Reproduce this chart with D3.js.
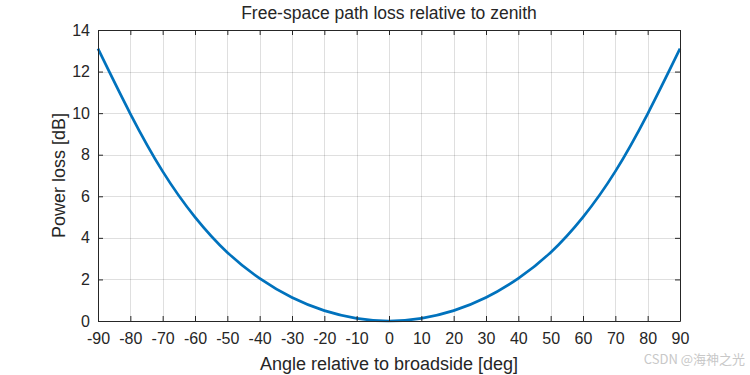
<!DOCTYPE html>
<html lang="en">
  <head>
    <meta charset="utf-8">
    <script src="https://d3js.org/d3.v7.min.js"></script>
    <style>
    body { margin: 0; background: #fff; }
    text { font-family: "Liberation Sans", Arial, sans-serif; fill: #262626; }
    .grid line { stroke: #262626; stroke-opacity: 0.15; }
    </style>
    <title>Free-space path loss</title>
  </head>
  <body>
    <script>
    // values
    var angles = [-90, -80, -70, -60, -50, -40, -30, -20, -10, 0, 10, 20, 30, 40, 50, 60, 70, 80, 90];
    var loss = [13.1, 9.97, 7.2, 5.0, 3.3, 2.05, 1.13, 0.5, 0.13, 0, 0.13, 0.5, 1.13, 2.05, 3.3, 5.0, 7.2, 9.97, 13.1];
    var xTicks = d3.range(-90, 91, 10);
    var yTicks = [0, 2, 4, 6, 8, 10, 12, 14];

    var w = 750, h = 375;
    var mLeft = 98, mRight = 680, mTop = 30, mBottom = 321;

    var svg = d3.select('body').append('svg')
        .attr('width', w)
        .attr('height', h);

    var x = d3.scaleLinear().domain([-90, 90]).range([mLeft, mRight]);
    var y = d3.scaleLinear().domain([0, 14]).range([mBottom, mTop]);

    // grid
    var grid = svg.append('g').attr('class', 'grid');
    grid.selectAll('.gx').data(xTicks.slice(1, -1)).enter().append('line')
        .attr('x1', function(d) { return Math.round(x(d)) + 0.5; })
        .attr('x2', function(d) { return Math.round(x(d)) + 0.5; })
        .attr('y1', mTop).attr('y2', mBottom);
    grid.selectAll('.gy').data(yTicks.slice(1, -1)).enter().append('line')
        .attr('y1', function(d) { return Math.round(y(d)) + 0.5; })
        .attr('y2', function(d) { return Math.round(y(d)) + 0.5; })
        .attr('x1', mLeft).attr('x2', mRight);

    // the curve
    var pts = angles.map(function(a, i) { return [a, loss[i]]; });
    var line = d3.line()
        .x(function(d) { return x(d[0]); })
        .y(function(d) { return y(d[1]); })
        .curve(d3.curveNatural);
    svg.append('path')
        .datum(pts)
        .attr('d', line)
        .attr('fill', 'none')
        .attr('stroke', '#0072BD')
        .attr('stroke-width', 2.7);

    // axes (ticks inside, box on all sides)
    var fmt = function(d) { return String(d); };
    function styleAxis(g) {
      g.selectAll('.domain').attr('stroke', '#262626');
      g.selectAll('.tick line').attr('stroke', '#262626');
      g.selectAll('text').style('font-size', '16px').attr('fill', '#262626')
        .style('font-family', '"Liberation Sans", Arial, sans-serif');
    }
    svg.append('g')
        .attr('transform', 'translate(0,' + mBottom + ')')
        .call(d3.axisBottom(x).tickValues(xTicks).tickFormat(fmt).tickSizeInner(-5).tickSizeOuter(0).tickPadding(12))
        .call(styleAxis);
    svg.append('g')
        .attr('transform', 'translate(0,' + mTop + ')')
        .call(d3.axisTop(x).tickValues(xTicks).tickSizeInner(-5).tickSizeOuter(0).tickFormat(''))
        .call(styleAxis);
    svg.append('g')
        .attr('transform', 'translate(' + mLeft + ',0)')
        .call(d3.axisLeft(y).tickValues(yTicks).tickFormat(fmt).tickSizeInner(-5).tickSizeOuter(0).tickPadding(8))
        .call(styleAxis);
    svg.append('g')
        .attr('transform', 'translate(' + mRight + ',0)')
        .call(d3.axisRight(y).tickValues(yTicks).tickSizeInner(-5).tickSizeOuter(0).tickFormat(''))
        .call(styleAxis);

    // labels
    svg.append('text')
        .attr('x', (mLeft + mRight) / 2).attr('y', 19)
        .attr('text-anchor', 'middle')
        .style('font-size', '17.5px')
        .text('Free-space path loss relative to zenith');
    svg.append('text')
        .attr('x', (mLeft + mRight) / 2).attr('y', 370)
        .attr('text-anchor', 'middle')
        .style('font-size', '18px')
        .text('Angle relative to broadside [deg]');
    svg.append('text')
        .attr('transform', 'translate(65,' + ((mTop + mBottom) / 2) + ') rotate(-90)')
        .attr('text-anchor', 'middle')
        .style('font-size', '18px')
        .text('Power loss [dB]');

    // watermark
    svg.append('text')
        .attr('x', 745).attr('y', 364)
        .attr('text-anchor', 'end')
        .style('font-size', '13px')
        .style('fill', '#c8c8c8')
        .style('font-family', '"Noto Sans CJK SC", "Liberation Sans", sans-serif')
        .text('CSDN @海神之光');
    </script>
  </body>
</html>
